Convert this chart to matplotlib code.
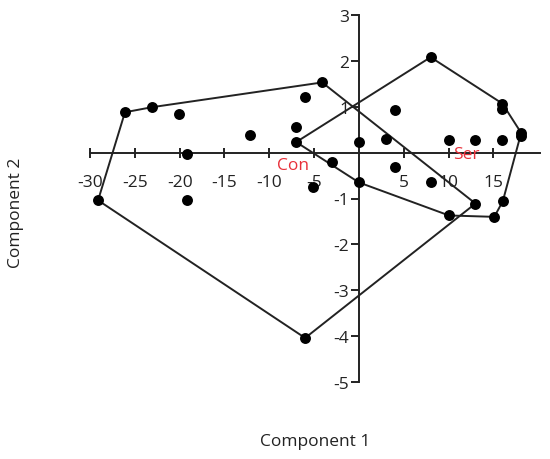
import matplotlib
matplotlib.use("Agg")
import matplotlib.pyplot as plt

plt.rcParams['font.family'] = ['Open Sans', 'DejaVu Sans']

# Scores
comp1 = [-29.1, -26.1, -23.1, -20.1, -19.2, -19.2, -12.1, -6.0, -4.1, -7.0,
         -7.0, -3.0, -5.1, -6.0, 0.0, 0.0, 3.0, 4.0, 4.0, 8.0,
         8.0, 10.0, 13.0, 16.0, 16.0, 16.0, 18.1, 18.1, 13.0, 16.05,
         10.05, 15.1]
comp2 = [-1.04, 0.88, 0.99, 0.84, -0.04, -1.04, 0.39, 1.21, 1.53, 0.55,
         0.23, -0.20, -0.76, -4.04, 0.23, -0.65, 0.30, 0.93, -0.31, 2.08,
         -0.63, 0.27, 0.28, 0.27, 1.07, 0.96, 0.43, 0.37, -1.11, -1.06,
         -1.37, -1.40]

# Convex hull vertices
con_hull_x = [-29.1, -26.1, -23.1, -4.1, 13.0, -6.0]
con_hull_y = [-1.04, 0.88, 0.99, 1.53, -1.11, -4.04]
ser_hull_x = [-7.0, 8.0, 16.0, 18.1, 16.05, 15.1, 10.05, 0.0]
ser_hull_y = [0.23, 2.08, 1.07, 0.43, -1.06, -1.40, -1.37, -0.65]

group_labels = ["Con", "Ser"]
label_x = [-7.4, 12.0]
label_y = [-0.28, -0.03]

xticks = [-30, -25, -20, -15, -10, -5, 5, 10, 15]
yticks = [-5, -4, -3, -2, -1, 1, 2, 3]

fig = plt.figure(figsize=(5.5, 4.6), dpi=100)
ax = fig.add_axes([90/550, 1-383/460, (540-90)/550, (383-16)/460])

line_c = '#222222'
for hx, hy in [(con_hull_x, con_hull_y), (ser_hull_x, ser_hull_y)]:
    ax.plot(hx + hx[:1], hy + hy[:1], color=line_c, lw=1.4, zorder=2)

ax.scatter(comp1, comp2, s=62, color='black', zorder=3, linewidths=0)

for t, x, y in zip(group_labels, label_x, label_y):
    ax.text(x, y, t, color='#e8303a', fontsize=12.5, ha='center', va='center', zorder=4)

ax.set_xlim(-30, 20.2)
ax.set_ylim(-5, 3)
for s in ['top', 'right']:
    ax.spines[s].set_visible(False)
ax.spines['left'].set_position(('data', 0))
ax.spines['bottom'].set_position(('data', 0))
for s in ['left', 'bottom']:
    ax.spines[s].set_color(line_c)
    ax.spines[s].set_linewidth(1.4)
ax.spines['left'].set_bounds(-5, 3)

ax.set_xticks(xticks)
ax.set_yticks(yticks)
ax.set_xticklabels([str(v) for v in xticks])
ax.set_yticklabels([str(v) for v in yticks])
ax.tick_params(axis='x', direction='inout', length=7, width=1.4, colors=line_c,
               labelsize=12.5, pad=12, labelcolor='#222222')
ax.tick_params(axis='y', direction='out', length=6, width=1.4, colors=line_c,
               labelsize=12.5, pad=1, labelcolor='#222222')
ax.patch.set_alpha(0)

fig.text(315/550, 1-442/460, "Component 1", ha='center', va='center', fontsize=12.5, color='#222222')
fig.text(16/550, 1-213/460, "Component 2", ha='center', va='center', rotation=90, fontsize=12.5, color='#222222')

fig.savefig("out.png", dpi=100)
